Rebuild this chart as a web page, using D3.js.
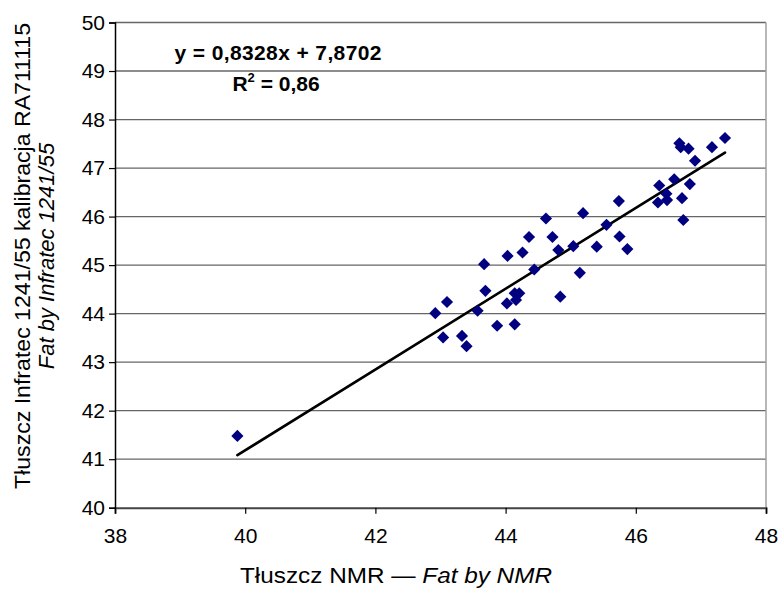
<!DOCTYPE html>
<html>
<head>
<meta charset="utf-8">
<script src="https://cdn.jsdelivr.net/npm/d3@7"></script>
<style>
  html, body { margin: 0; padding: 0; background: #fff; }
  svg { display: block; font-family: "Liberation Sans", Arial, sans-serif; }
</style>
</head>
<body>
<div id="chart"></div>
<script>
// fat by NMR (x) vs fat by Infratec (y)
var fatNMR = [
  47.37, 47.17, 46.67, 46.69, 46.81, 46.91, 46.59, 46.36, 46.47, 46.48,
  46.34, 46.83, 46.71, 46.73, 45.74, 45.19, 44.62, 45.55, 45.75, 45.87,
  45.40, 45.04, 44.81, 44.72, 44.36, 44.26, 44.03, 44.44, 45.14, 43.67,
  43.69, 43.10, 42.92, 43.57, 44.02, 44.14, 44.21, 44.16, 44.84, 43.87,
  44.14, 43.04, 43.33, 43.40, 39.88
];
var fatInfratec = [
  47.62, 47.43, 47.51, 47.43, 47.40, 47.15, 46.77, 46.64, 46.47, 46.34,
  46.29, 46.67, 46.38, 45.93, 46.32, 46.07, 45.96, 45.83, 45.59, 45.33,
  45.38, 45.39, 45.31, 45.58, 45.58, 45.26, 45.19, 44.91, 44.84, 45.02,
  44.47, 44.24, 44.01, 44.06, 44.21, 44.42, 44.42, 44.28, 44.35, 43.75,
  43.78, 43.51, 43.54, 43.33, 41.48
];
var slope = 0.8328, intercept = 7.8702;
var xTicks = [38, 40, 42, 44, 46, 48];
var yTicks = [40, 41, 42, 43, 44, 45, 46, 47, 48, 49, 50];

(function() {
    var width = 781, height = 596;
    var left = 115, right = 766, top = 22.5, bottom = 507.7;
    var fs = 21;

    var svg = d3.select('#chart').append('svg')
        .attr('width', width)
        .attr('height', height);

    var x = d3.scaleLinear().domain([38, 48]).range([left, right]);
    var y = d3.scaleLinear().domain([40, 50]).range([bottom, top]);

    // horizontal gridlines
    svg.append('g').selectAll('line').data(yTicks.slice(1))
        .enter().append('line')
        .attr('x1', left).attr('x2', right)
        .attr('y1', function(d) { return y(d); })
        .attr('y2', function(d) { return y(d); })
        .attr('stroke', '#666')
        .attr('stroke-width', 1.3);

    // right border of the plot area
    svg.append('line')
        .attr('x1', right).attr('x2', right)
        .attr('y1', top).attr('y2', bottom)
        .attr('stroke', '#a0a0a0')
        .attr('stroke-width', 1.5);

    var xAxis = svg.append('g')
        .attr('transform', 'translate(0,' + bottom + ')')
        .call(d3.axisBottom(x).tickValues(xTicks).tickSize(6).tickPadding(14));
    var yAxis = svg.append('g')
        .attr('transform', 'translate(' + left + ',0)')
        .call(d3.axisLeft(y).tickValues(yTicks).tickSize(6).tickPadding(4));

    [xAxis, yAxis].forEach(function(g) {
        g.selectAll('.domain').attr('stroke', '#000').attr('stroke-width', 1.5);
        g.selectAll('.tick line').attr('stroke', '#000').attr('stroke-width', 1.2);
        g.selectAll('.tick text')
            .attr('font-size', fs)
            .attr('font-family', '"Liberation Sans", Arial, sans-serif')
            .attr('fill', '#000');
    });
    xAxis.select('.domain').attr('stroke', '#444').attr('stroke-width', 2);

    // trend line over the range of the data
    var xmin = d3.min(fatNMR), xmax = d3.max(fatNMR);
    svg.append('line')
        .attr('x1', x(xmin)).attr('y1', y(slope * xmin + intercept))
        .attr('x2', x(xmax)).attr('y2', y(slope * xmax + intercept))
        .attr('stroke', '#000')
        .attr('stroke-width', 2.6)
        .attr('stroke-linecap', 'round');

    // diamond markers
    var diamond = d3.symbol().type(d3.symbolSquare).size(74);
    svg.append('g').selectAll('path').data(d3.range(fatNMR.length))
        .enter().append('path')
        .attr('d', diamond)
        .attr('transform', function(i) {
            return 'translate(' + x(fatNMR[i]) + ',' + y(fatInfratec[i]) + ') rotate(45)';
        })
        .attr('fill', '#000080');

    // regression equation
    var eq = svg.append('g')
        .attr('font-weight', 'bold')
        .attr('font-size', fs)
        .attr('text-anchor', 'middle');
    eq.append('text')
        .attr('x', 278).attr('y', 60)
        .attr('textLength', 207)
        .text('y = 0,8328x + 7,8702');
    var r2 = eq.append('text').attr('x', 276).attr('y', 91);
    r2.append('tspan').text('R');
    r2.append('tspan').attr('dy', -9).attr('font-size', 13).text('2');
    r2.append('tspan').attr('dy', 9).text(' = 0,86');

    // axis titles
    var xt = svg.append('text')
        .attr('x', 396).attr('y', 583)
        .attr('text-anchor', 'middle')
        .attr('textLength', 312)
        .attr('lengthAdjust', 'spacingAndGlyphs')
        .attr('font-size', 22);
    xt.append('tspan').text('Tłuszcz NMR — ');
    xt.append('tspan').attr('font-style', 'italic').text('Fat by NMR');

    var yt = svg.append('g')
        .attr('transform', 'translate(0,256) rotate(-90)')
        .attr('text-anchor', 'middle')
        .attr('font-size', 22);
    yt.append('text').attr('x', 0).attr('y', 30)
        .attr('textLength', 466)
        .attr('lengthAdjust', 'spacingAndGlyphs')
        .text('Tłuszcz Infratec 1241/55 kalibracja RA711115');
    yt.append('text').attr('x', 0).attr('y', 54)
        .attr('font-style', 'italic')
        .text('Fat by Infratec 1241/55');
})();
</script>
</body>
</html>
